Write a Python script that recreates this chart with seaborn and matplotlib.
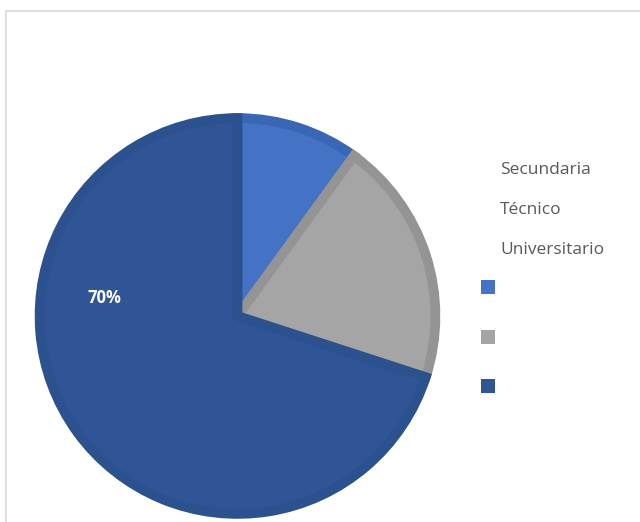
import matplotlib
matplotlib.use("Agg")
import matplotlib.pyplot as plt
from matplotlib.patches import Rectangle
import seaborn as sns

OUTPUT_PATH = "out.png"

categories = ["Secundaria", "Técnico", "Universitario"]
values = [10, 20, 70]
fill_colors = ["#4472C4", "#A5A5A5", "#2F5597"]
edge_colors = ["#3A66B6", "#949494", "#2C518F"]


def main():
    sns.set_theme(style="white")
    plt.rcParams["font.family"] = ["Open Sans", "DejaVu Sans"]

    fig = plt.figure(figsize=(6.4, 5.22), dpi=100)
    W, H = 640, 522

    # light chart-area frame
    fig.add_artist(Rectangle((6 / W, -0.2), 1.2, 1.2 - 11 / H,
                             transform=fig.transFigure, fill=False,
                             edgecolor="#D9D9D9", linewidth=1.2))

    cx, cy, r = 237.5, 316, 203
    ax = fig.add_axes([(cx - r) / W, (H - cy - r) / H, 2 * r / W, 2 * r / H])
    wedges, texts, autotexts = ax.pie(
        values, colors=sns.color_palette(fill_colors), startangle=90,
        counterclock=False, radius=0.975,
        autopct=lambda p: f"{p:.0f}%" if p > 50 else "",
        pctdistance=0.68,
        wedgeprops=dict(linewidth=7, antialiased=True),
        textprops=dict(color="white", fontsize=12, fontweight="bold"))
    for w, ec in zip(wedges, edge_colors):
        w.set_edgecolor(ec)
    for t, v in zip(autotexts, values):
        if v == max(values):
            t.set_position((-0.655, 0.09))
    ax.set_xlim(-1, 1)
    ax.set_ylim(-1, 1)
    ax.set_aspect("equal")
    ax.axis("off")

    # legend text and markers, laid out like the original
    for i, name in enumerate(categories):
        fig.text(500 / W, 1 - (170 + 40 * i) / H, name, fontsize=12.5,
                 color="#595959", va="center", ha="left")
    for i, col in enumerate(fill_colors):
        y = 287 + 49.5 * i
        fig.add_artist(Rectangle((481 / W, 1 - (y + 7) / H), 14 / W, 14 / H,
                                 transform=fig.transFigure, facecolor=col,
                                 edgecolor="none"))

    fig.savefig(OUTPUT_PATH, dpi=100, facecolor="white")
    plt.close(fig)


if __name__ == "__main__":
    main()
